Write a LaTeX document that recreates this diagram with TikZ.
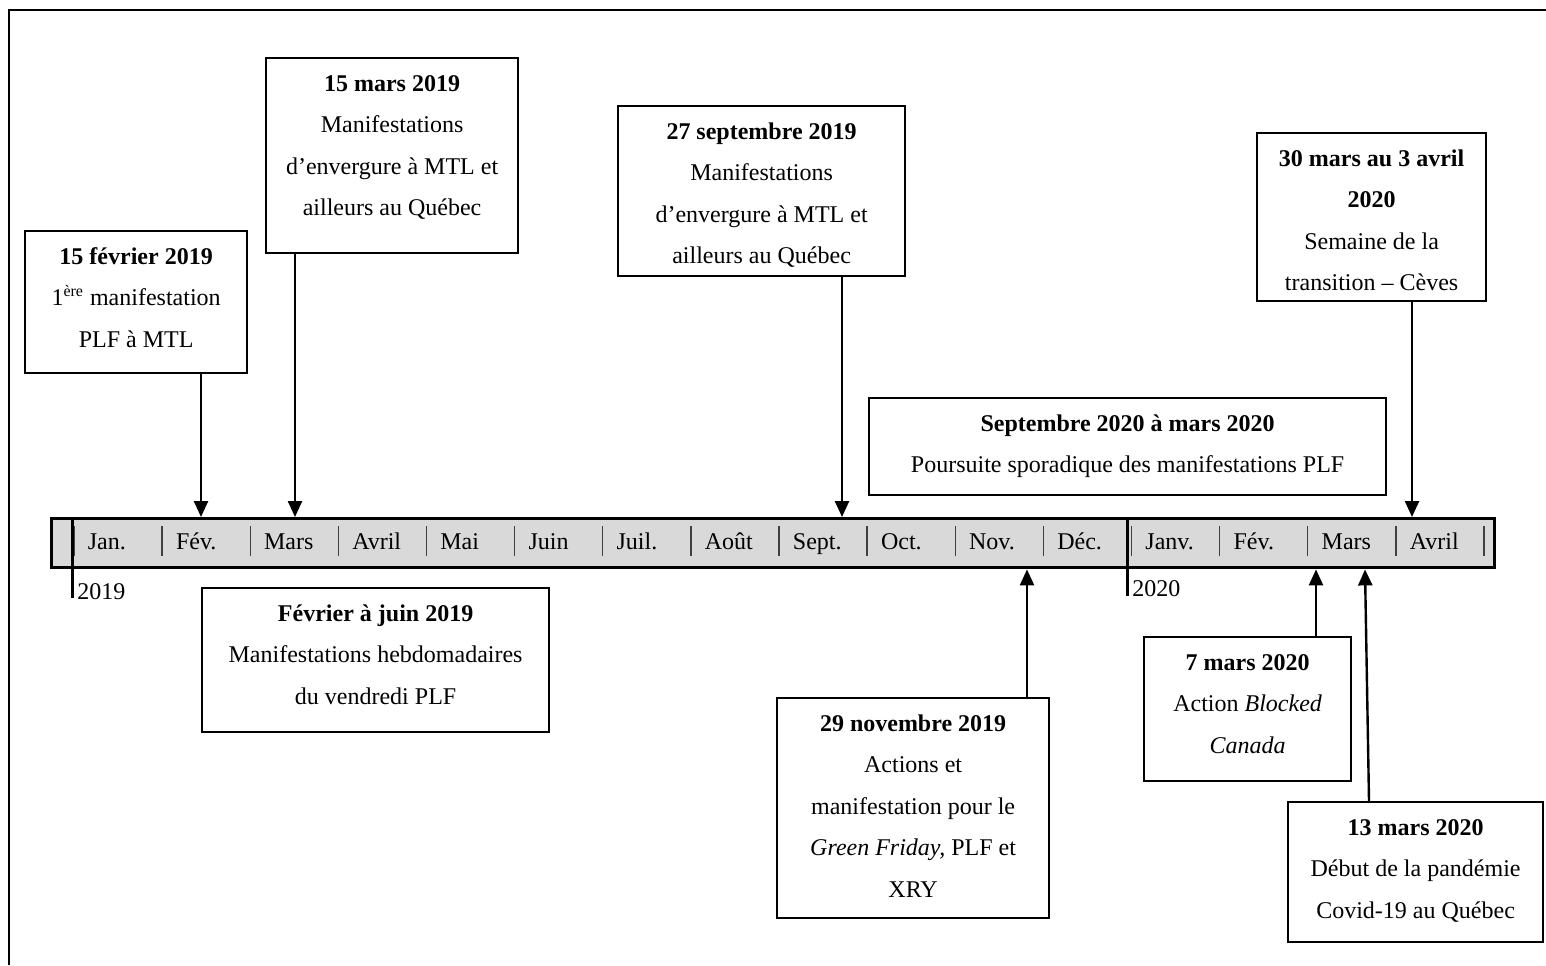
\documentclass[tikz,border=0pt]{standalone}
\usepackage{fontspec}
\setmainfont{Liberation Serif}
\usetikzlibrary{arrows.meta}
\newdimen\pxu \pxu=0.5pt
\newcommand{\evtxt}[3]{\begin{minipage}[c][#2\pxu][t]{#1\pxu}\centering\fontsize{12}{20.75}\selectfont\rule{0pt}{33\pxu}#3\end{minipage}}
\definecolor{barfill}{HTML}{D9D9D9}
\definecolor{sepgray}{HTML}{404040}
\tikzset{
  evbox/.style={draw, line width=1.1pt, inner sep=0pt, fill=white, anchor=north west},
  arr/.style={line width=1.2pt, -{Triangle[length=8pt,width=7pt]}},
  barbox/.style={draw, line width=1.7pt, fill=barfill, inner sep=0pt, minimum width=1443\pxu, minimum height=49\pxu, anchor=north west},
  msep/.style={line width=0.7pt, draw=sepgray},
  mlabel/.style={anchor=base west, inner sep=0pt, font=\fontsize{12}{14}\selectfont},
  yearline/.style={line width=1.5pt},
  framestyle/.style={line width=1.3pt}
}
\begin{document}
\begin{tikzpicture}[x=0.5pt,y=-0.5pt]
\useasboundingbox (0,0) rectangle (1546,965);
% outer frame (partially visible)
\draw[framestyle] (9,965) -- (9,10) -- (1546,10);

% timeline bar
\node[barbox] (bar) at (50,517) {};
\foreach \i in {0,...,16}
  \draw[msep] (74+88.125*\i,526) -- (74+88.125*\i,556);
\foreach \m [count=\i from 0] in {Jan.,Fév.,Mars,Avril,Mai,Juin,Juil.,Août,Sept.,Oct.,Nov.,Déc.,Janv.,Fév.,Mars,Avril}
  \node[mlabel] (m\i) at (87.5+88.125*\i,549) {\m};

% year markers
\coordinate (y19) at (72,598);
\coordinate (y20) at (1127,596);
\draw[yearline] (bar.north -| y19) -- (y19);
\draw[yearline] (bar.north -| y20) -- (y20);
\node[mlabel] (t19) at (77,599) {2019};
\node[mlabel] (t20) at (1132,596) {2020};

% event boxes
\node[evbox] (b1) at (24,230) {\evtxt{222}{142}{\textbf{15 février 2019}\\1\textsuperscript{ère} manifestation\\PLF à MTL}};
\node[evbox] (b2) at (265,57) {\evtxt{252}{195}{\textbf{15 mars 2019}\\Manifestations\\d’envergure à MTL et\\ailleurs au Québec}};
\node[evbox] (b3) at (617,105) {\evtxt{287}{170}{\textbf{27 septembre 2019}\\Manifestations\\d’envergure à MTL et\\ailleurs au Québec}};
\node[evbox] (b4) at (1256,132) {\evtxt{229}{168}{\textbf{30 mars au 3 avril}\\\textbf{2020}\\Semaine de la\\transition – Cèves}};
\node[evbox] (b5) at (868,397) {\evtxt{517}{97}{\textbf{Septembre 2020 à mars 2020}\\Poursuite sporadique des manifestations PLF}};
\node[evbox] (b6) at (201,587) {\evtxt{347}{144}{\textbf{Février à juin 2019}\\Manifestations hebdomadaires\\du vendredi PLF}};
\node[evbox] (b7) at (776,697) {\evtxt{272}{220}{\textbf{29 novembre 2019}\\Actions et\\manifestation pour le\\\textit{Green Friday,} PLF et\\XRY}};
\node[evbox] (b8) at (1143,636) {\evtxt{207}{144}{\textbf{7 mars 2020}\\Action \textit{Blocked}\\\textit{Canada}}};
\node[evbox] (b9) at (1287,801) {\evtxt{255}{140}{\textbf{13 mars 2020}\\Début de la pandémie\\Covid-19 au Québec}};

% arrows
\coordinate (x1) at (201,0);
\coordinate (x2) at (295,0);
\coordinate (x3) at (842,0);
\coordinate (x4) at (1412,0);
\coordinate (x7) at (1027,0);
\coordinate (x8) at (1316,0);
\coordinate (x9a) at (1369,0);
\coordinate (x9b) at (1365,0);
\draw[arr] (b1.south -| x1) -- (bar.north -| x1);
\draw[arr] (b2.south -| x2) -- (bar.north -| x2);
\draw[arr] (b3.south -| x3) -- (bar.north -| x3);
\draw[arr] (b4.south -| x4) -- (bar.north -| x4);
\draw[arr] (b7.north -| x7) -- (bar.south -| x7);
\draw[arr] (b8.north -| x8) -- (bar.south -| x8);
\draw[arr] (b9.north -| x9a) -- (bar.south -| x9b);
\end{tikzpicture}
\end{document}
